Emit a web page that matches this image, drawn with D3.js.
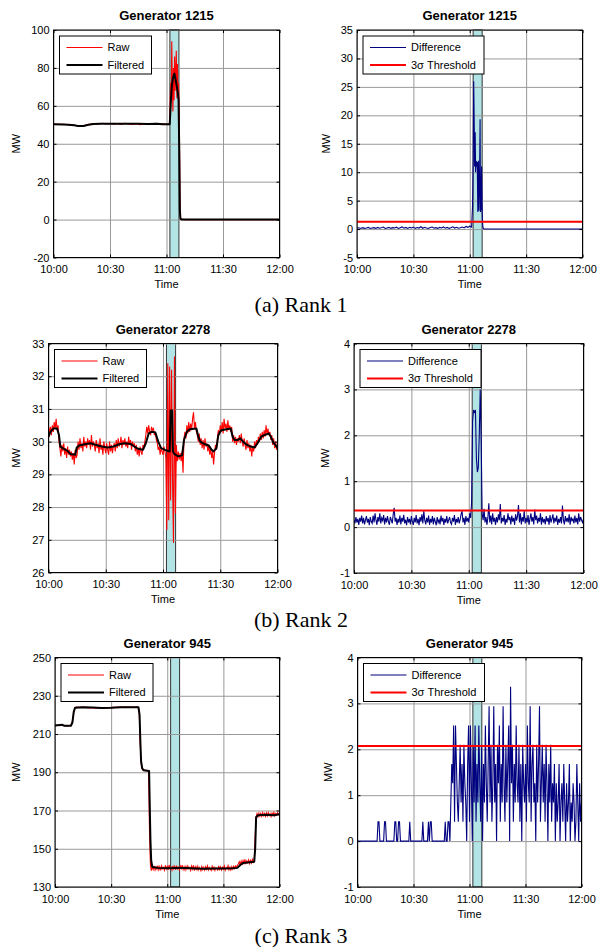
<!DOCTYPE html>
<html>
<head>
<meta charset="utf-8">
<script src="https://cdn.jsdelivr.net/npm/d3@7"></script>
<style>
  body { margin: 0; background: #fff; }
  svg { display: block; }
  text { font-family: "Liberation Sans", Arial, sans-serif; fill: #000; }
  .caption { font-family: "Liberation Serif", "Times New Roman", serif; font-size: 22px; }
</style>
</head>
<body>
<svg id="fig" width="601" height="947"></svg>
<script>
// time axis is minutes after 10:00
var timeTicks = [0, 30, 60, 90, 120];
var timeLabels = ["10:00", "10:30", "11:00", "11:30", "12:00"];
var eventWindow = [61.8, 66.6];
var sampleStep = 0.5;

// Generator 1215
var gen1215Raw = [[0,50.4],[2,50.3],[4,50.2],[6,50.3],[8,49.9],[10,49.8],[12,49.6],[14,49.3],[16,49.5],[18,50.1],[20,50.4],[22,50.6],[24,50.5],[26,50.8],[28,50.4],[30,50.7],[32,50.3],[34,50.7],[36,50.2],[38,50.8],[40,50.5],[42,50.2],[44,50.6],[46,50.1],[48,50.4],[50,50.7],[52,50.3],[54,50.8],[56,50.3],[58,50.5],[60,50.2],[61.6,50.3],
  [61.9,60],[62.2,72],[62.5,66],[62.8,94],[63.1,70],[63.4,57],[63.7,80],[64.0,63],[64.3,86],[64.6,68],[64.9,78],[65.2,89],[65.5,64],[65.8,82],[66.1,66],[66.4,72],[66.7,60],[67.0,30],[67.2,3],[67.5,0.3],[70,0],[120,0]];
var gen1215Filtered = [[0,50.3],[5,50.2],[8,50.0],[11,49.7],[13,49.4],[16,49.4],[18,49.9],[21,50.4],[25,50.6],[35,50.6],[45,50.5],[50,50.4],[55,50.6],[58,50.3],[61.7,50.3],
  [62.0,56],[62.4,64],[62.8,70],[63.3,74],[63.8,76],[64.2,77],[64.6,75],[65.0,73],[65.5,70],[66.0,67],[66.4,63],[66.8,35],[67.1,5],[67.4,0.5],[68,0],[120,0]];
var gen1215Diff = [[0,0.15],[1,0.22],[2,0.1],[3,0.25],[4,0.12],[5,0.2],[6,0.3],[7,0.1],[8,0.18],[9,0.25],[10,0.12],[11,0.28],[12,0.15],[13,0.22],[14,0.35],[15,0.1],[16,0.2],[17,0.3],[18,0.12],[19,0.25],[20,0.18],[21,0.32],[22,0.1],[23,0.24],[24,0.38],[25,0.15],[26,0.28],[27,0.12],[28,0.3],[29,0.2],[30,0.35],[31,0.12],[32,0.26],[33,0.18],[34,0.4],[35,0.14],[36,0.3],[37,0.2],[38,0.12],[39,0.28],[40,0.35],[41,0.15],[42,0.25],[43,0.12],[44,0.3],[45,0.2],[46,0.38],[47,0.15],[48,0.28],[49,0.12],[50,0.25],[51,0.4],[52,0.18],[53,0.3],[54,0.15],[55,0.22],[56,0.35],[57,0.2],[58,0.45],[59,0.3],[60,0.5],[61,0.35],
  [61.5,4.2],[61.8,12],[62.1,26],[62.4,18],[62.6,11],[62.9,17],[63.1,10],[63.4,12],[63.7,11],[64.0,11.8],[64.3,3],[64.6,12],[64.9,3.2],[65.2,8],[65.5,19.3],[65.7,3],[66.0,3.5],[66.3,11],[66.6,3],[66.9,0.6],[67.2,0.1],[67.6,0],[120,0]];
var gen1215Threshold = 1.3;

// Generator 2278 (raw and difference sampled every 0.5 min)
var gen2278Raw = [30.1,30.35,30.45,30.2,30.5,30.3,30.6,30.4,30.7,30.35,
  30.5,30.0,29.8,29.55,29.9,29.7,29.95,29.6,29.8,29.5,
  29.85,29.6,29.75,29.55,29.7,29.45,29.65,29.3,29.75,29.5,
  29.6,30.0,29.75,30.1,29.8,29.95,29.7,30.15,29.85,30.0,
  29.8,30.1,29.9,30.05,29.75,30.2,29.85,30.0,29.9,29.7,
  30.05,29.8,29.95,29.65,30.1,29.75,29.9,29.6,30.0,29.8,
  29.65,29.95,29.75,29.6,30.0,29.7,29.9,29.65,29.85,29.95,
  29.7,30.05,29.8,30.1,29.85,29.95,30.15,29.8,30.05,29.9,
  30.1,29.85,30.0,29.8,30.15,29.9,30.05,29.75,30.0,29.85,
  29.95,29.7,29.9,29.6,29.8,29.55,29.85,29.7,29.6,29.9,
  29.8,30.0,30.2,30.45,30.25,30.5,30.3,30.2,30.45,30.35,
  30.4,30.2,30.3,30.05,29.95,29.75,29.85,29.6,29.8,29.7,
  29.6,29.85,29.7,29.5,27.3,32.4,27.6,32.3,28.2,32.2,
  28.8,26.9,32.6,27.8,29.9,29.4,29.7,29.45,29.65,29.4,
  29.7,29.05,30.1,30.3,30.1,30.5,30.25,30.6,30.3,30.55,
  30.35,30.7,30.9,30.4,30.6,30.3,30.2,30.0,30.25,29.9,
  30.1,29.8,30.05,29.75,30.1,29.85,29.95,29.7,29.9,29.6,
  29.8,29.5,29.7,29.3,29.65,29.9,29.75,30.1,30.35,30.2,
  30.5,30.3,30.6,30.25,30.7,30.4,30.55,30.3,30.65,30.35,
  30.5,30.3,30.45,30.0,30.2,29.95,30.15,29.9,30.1,30.0,
  30.2,29.95,30.25,30.0,29.85,30.1,29.9,29.75,30.05,29.8,
  29.95,29.7,29.9,29.55,29.85,29.7,30.0,29.8,30.05,29.9,
  30.15,30.0,30.25,30.05,30.3,30.1,30.35,30.15,30.5,30.2,
  30.4,30.2,30.3,30.05,30.2,29.9,30.1,29.8,30.0,29.75,
  29.85];
var gen2278Filtered = [[0,30.15],[1,30.3],[2.5,30.4],[4.5,30.4],[5.5,30.2],[6.2,29.85],[8,29.78],[10,29.72],[11.5,29.62],[14,29.6],[14.8,29.82],[16,29.88],[19,29.92],[22,29.95],[25,29.9],[28,29.85],[31,29.82],[34,29.85],[37,29.92],[40,29.95],[43,29.93],[45,29.85],[47,29.78],[49.5,29.75],[51,29.95],[52.5,30.25],[54,30.3],[56,30.28],[57.5,30.0],[59,29.8],[61,29.75],[63.5,29.7],[64.0,30.95],[64.8,30.95],[65.2,29.7],[66,29.62],[68,29.55],[70,29.58],[71,30.05],[72.5,30.3],[74,30.38],[77.5,30.4],[78.5,30.15],[79.5,30.0],[82,29.92],[84,29.88],[85.5,29.75],[86.5,29.7],[88,29.8],[89,30.2],[90.5,30.35],[95.5,30.4],[96.5,30.15],[97.5,30.05],[99,30.05],[100.5,30.1],[102,30.0],[104,29.9],[106,29.85],[108,29.82],[109.5,29.95],[111.5,30.15],[113,30.2],[115.5,30.25],[116.5,30.15],[118,29.95],[119,29.9],[120,29.8]];
var gen2278Diff = [0.15,0.08,0.22,0.1,0.18,0.05,0.2,0.12,0.25,0.08,
  0.2,0.06,0.15,0.24,0.1,0.18,0.04,0.22,0.12,0.08,
  0.25,0.1,0.3,0.15,0.05,0.22,0.12,0.3,0.08,0.2,
  0.14,0.26,0.06,0.2,0.1,0.24,0.12,0.05,0.22,0.15,
  0.08,0.28,0.42,0.12,0.2,0.05,0.18,0.1,0.25,0.06,
  0.2,0.12,0.27,0.08,0.16,0.04,0.22,0.1,0.18,0.06,
  0.24,0.12,0.05,0.2,0.1,0.26,0.08,0.18,0.04,0.22,
  0.12,0.28,0.08,0.35,0.15,0.06,0.2,0.1,0.25,0.05,
  0.18,0.1,0.24,0.06,0.2,0.12,0.04,0.22,0.1,0.16,
  0.06,0.25,0.12,0.2,0.05,0.18,0.1,0.24,0.08,0.15,
  0.22,0.1,0.06,0.2,0.12,0.26,0.05,0.18,0.1,0.22,
  0.08,0.16,0.28,0.35,0.1,0.2,0.05,0.24,0.12,0.2,
  0.1,0.3,0.2,0.55,2.3,2.55,2.5,2.55,1.5,1.2,
  1.3,2.0,3.0,1.9,0.3,0.15,0.4,0.1,0.22,0.05,
  0.2,0.52,0.1,0.25,0.06,0.3,0.12,0.2,0.05,0.22,
  0.1,0.28,0.15,0.5,0.08,0.2,0.12,0.26,0.05,0.18,
  0.1,0.3,0.15,0.22,0.06,0.25,0.12,0.2,0.05,0.28,
  0.14,0.24,0.48,0.1,0.3,0.06,0.22,0.12,0.35,0.08,
  0.2,0.1,0.26,0.05,0.18,0.3,0.12,0.22,0.06,0.38,
  0.15,0.25,0.08,0.2,0.12,0.3,0.05,0.22,0.1,0.18,
  0.06,0.24,0.12,0.2,0.05,0.26,0.1,0.18,0.28,0.08,
  0.2,0.12,0.25,0.05,0.18,0.1,0.22,0.08,0.47,0.15,
  0.06,0.24,0.12,0.2,0.1,0.28,0.05,0.22,0.14,0.18,
  0.08,0.25,0.1,0.2,0.06,0.3,0.12,0.22,0.15,0.1,
  0.18];
var gen2278Threshold = 0.36;

// Generator 945 (raw and difference sampled every 0.5 min)
var gen945Raw = [214.6,214.4,214.7,214.5,214.6,214.4,214.5,214.7,214.8,214.6,
  214.2,214.4,214.3,214.1,214.4,214.3,214.2,214.5,215.5,217.5,
  221.5,223.0,223.8,224.2,223.9,224.1,223.8,224.2,223.9,224.0,
  224.2,223.8,224.1,223.9,223.7,224.0,223.6,223.9,223.7,223.5,
  223.8,223.5,223.9,223.6,223.4,223.7,223.5,223.8,223.4,223.6,
  223.5,223.8,223.6,223.4,223.7,223.5,223.8,223.6,223.9,223.7,
  223.6,223.9,223.7,224.0,223.8,224.1,223.9,224.2,223.8,224.1,
  224.0,224.2,223.9,224.1,224.0,224.3,223.9,224.1,224.0,224.2,
  223.9,224.1,224.0,224.2,223.9,224.1,224.0,224.2,224.1,223.9,
  222.0,206.0,195.0,192.0,191.0,190.8,191.2,190.7,191.0,190.6,
  190.8,160.0,141.5,138.5,140.8,139.2,141.0,138.9,140.5,139.3,
  141.2,139.0,140.6,138.7,141.0,139.5,140.2,138.8,141.3,139.4,
  140.7,139.1,141.5,139.6,140.3,138.9,141.1,139.4,140.8,139.0,
  141.2,139.5,140.4,138.8,140.9,139.7,141.4,139.2,140.6,138.9,
  140.8,139.3,141.0,139.6,140.2,138.7,140.9,139.4,141.3,138.6,
  140.5,139.2,140.8,138.9,140.4,139.6,138.5,140.7,139.1,140.3,
  138.8,140.6,139.3,141.0,138.9,140.2,139.5,138.6,140.8,139.2,
  140.4,138.7,140.1,139.6,138.8,141.0,139.2,140.5,138.9,140.3,
  139.4,140.9,138.8,140.2,139.6,141.1,139.0,140.4,138.9,140.6,
  139.3,140.8,139.7,141.0,140.2,141.4,142.0,143.2,141.8,143.5,
  142.1,143.8,142.4,144.5,142.0,143.6,142.7,144.2,142.3,143.9,
  142.6,144.4,143.0,143.8,156.0,166.5,168.3,166.8,168.6,167.1,
  168.5,167.0,168.8,167.3,168.4,166.9,168.7,167.2,168.9,167.4,
  168.3,166.8,168.6,167.5,169.0,167.2,168.4,167.6,168.9,167.8,
  168.5];
var gen945Filtered = [[0,214.5],[4,214.8],[5,214.3],[8.5,214.3],[9.3,216],[10,221.5],[10.7,223.7],[15,224],[20,223.8],[25,223.6],[30,223.7],[35,224],[44.6,224],[45.2,220],[45.6,207],[46.0,196],[46.6,192],[47.5,191],[50.3,190.7],[50.6,175],[51.0,155],[51.4,144],[52,140.5],[55,140],[60,139.8],[65,140],[70,139.9],[75,139.7],[80,139.6],[85,139.7],[90,139.7],[95,139.8],[97.5,140],[99,141.5],[100.5,142.5],[103,142.8],[106.5,143.2],[107,150],[107.5,166.5],[108.5,167.5],[113,167.8],[117,167.5],[120,168]];
var gen945Diff = [0,0,0,0,0,0,0,0,0,0,
  0,0,0,0,0,0,0,0,0,0,
  0,0,0.42,0.42,0,0,0,0,0,0.42,
  0.42,0,0,0,0,0,0,0,0,0,
  0.42,0.42,0,0,0.42,0.42,0,0,0,0,
  0,0,0,0,0,0,0.42,0,0,0,
  0,0,0,0,0,0,0,0,0,0,
  0.42,0,0,0,0,0,0.42,0,0.42,0.42,
  0,0,0,0,0,0,0,0,0,0,
  0,0,0,0,0.42,0,0,0.42,0.42,0,
  0.84,1.68,1.26,2.52,0.42,2.52,1.68,0.84,0.42,1.26,
  2.1,0.84,1.68,0.42,2.1,1.26,0.84,0,1.68,2.52,
  0.42,2.52,1.26,0,2.1,0.84,2.52,0.42,1.68,0.84,
  2.52,1.26,0.42,2.1,0,1.68,0.84,2.52,1.26,0.42,
  1.68,2.94,0.84,2.1,0.42,1.26,2.94,0.84,1.68,0,
  2.1,1.26,2.52,0.42,1.68,0.84,2.94,1.26,0.42,2.1,
  0.84,1.68,2.52,0,3.36,1.26,2.1,0.42,1.68,0.84,
  2.52,1.26,0.84,2.1,0.42,1.68,0,2.1,1.26,0.84,
  1.68,0.42,2.52,1.26,0.84,2.94,0.42,1.68,2.1,0.84,
  1.26,0,2.1,0.84,1.68,2.94,0.42,1.26,2.1,0.84,
  1.68,0.42,2.1,1.26,0,1.68,0.84,2.1,0.42,1.26,
  0.84,1.68,0,1.26,0.42,0.84,1.68,0,0.84,1.26,
  0.42,1.68,0.84,0,1.26,0.42,0.84,1.68,0,0.84,
  0.42,1.26,0.84,0,0.42,1.68,0.84,0,1.26,0.42,
  0.84];
var gen945Threshold = 2.07;

// values sampled on a regular grid -> [minute, value]
function sampled(values) {
  return values.map(function(v, i) { return [i * sampleStep, v]; });
}

var svg = d3.select("#fig");

// panel layout: [left, top, right, bottom] of each plot box
var panels = [
  { id: "p1", box: [53.5, 30, 279.5, 257.5], yDomain: [-20, 100], yTicks: [-20, 0, 20, 40, 60, 80, 100],
    title: "Generator 1215", kind: "raw", a: gen1215Raw, b: gen1215Filtered, mwX: 16 },
  { id: "p2", box: [357, 30, 582.5, 257.5], yDomain: [-5, 35], yTicks: [-5, 0, 5, 10, 15, 20, 25, 30, 35],
    title: "Generator 1215", kind: "diff", a: gen1215Diff, thr: gen1215Threshold, mwX: 326 },
  { id: "p3", box: [48.5, 343.5, 277.5, 572.5], yDomain: [26, 33], yTicks: [26, 27, 28, 29, 30, 31, 32, 33],
    title: "Generator 2278", kind: "raw", a: sampled(gen2278Raw), b: gen2278Filtered, mwX: 16 },
  { id: "p4", box: [354, 343.5, 583.5, 573], yDomain: [-1, 4], yTicks: [-1, 0, 1, 2, 3, 4],
    title: "Generator 2278", kind: "diff", a: sampled(gen2278Diff), thr: gen2278Threshold, mwX: 325 },
  { id: "p5", box: [55, 657.5, 279.5, 887], yDomain: [130, 250], yTicks: [130, 150, 170, 190, 210, 230, 250],
    title: "Generator 945", kind: "raw", a: sampled(gen945Raw), b: gen945Filtered, mwX: 16.5 },
  { id: "p6", box: [357.5, 657.5, 581.5, 887], yDomain: [-1, 4], yTicks: [-1, 0, 1, 2, 3, 4],
    title: "Generator 945", kind: "diff", a: sampled(gen945Diff), thr: gen945Threshold, mwX: 328 }
];

var captions = [["(a) Rank 1", 312], ["(b) Rank 2", 627], ["(c) Rank 3", 943]];

function styleAxis(sel) {
  sel.select(".domain").remove();
  sel.attr("font-family", null).attr("font-size", null);
  sel.selectAll("line").attr("stroke", "#000");
  sel.selectAll("text").style("font-size", "11px");
}

// plain integers with an ASCII hyphen for negatives, like the original
function plainNumber(d) { return String(d); }

function drawPanel(p) {
  var x0 = p.box[0], y0 = p.box[1], x1 = p.box[2], y1 = p.box[3];
  var x = d3.scaleLinear().domain([0, 120]).range([x0, x1]);
  var y = d3.scaleLinear().domain(p.yDomain).range([y1, y0]);
  var g = svg.append("g");

  var clipId = "clip-" + p.id;
  svg.append("clipPath").attr("id", clipId)
    .append("rect").attr("x", x0).attr("y", y0).attr("width", x1 - x0).attr("height", y1 - y0);

  // event window
  g.append("rect")
    .attr("x", x(eventWindow[0])).attr("y", y0)
    .attr("width", x(eventWindow[1]) - x(eventWindow[0])).attr("height", y1 - y0)
    .attr("fill", "#b2e4e6").attr("stroke", "#333").attr("stroke-width", 1);

  // grid
  g.append("g").attr("transform", "translate(0," + y1 + ")")
    .call(d3.axisBottom(x).tickValues(timeTicks).tickSize(-(y1 - y0)).tickFormat(""))
    .call(function(s) { s.select(".domain").remove(); s.selectAll("line").attr("stroke", "#999"); });
  g.append("g").attr("transform", "translate(" + x0 + ",0)")
    .call(d3.axisLeft(y).tickValues(p.yTicks).tickSize(-(x1 - x0)).tickFormat(""))
    .call(function(s) { s.select(".domain").remove(); s.selectAll("line").attr("stroke", "#999"); });

  var line = d3.line().x(function(d) { return x(d[0]); }).y(function(d) { return y(d[1]); });
  var plot = g.append("g").attr("clip-path", "url(#" + clipId + ")");

  if (p.kind === "raw") {
    plot.append("path").datum(p.a).attr("d", line)
      .attr("fill", "none").attr("stroke", "#ff0000").attr("stroke-width", 1.1);
    plot.append("path").datum(p.b).attr("d", line)
      .attr("fill", "none").attr("stroke", "#000").attr("stroke-width", 2).attr("stroke-linejoin", "round");
  } else {
    plot.append("path").datum(p.a).attr("d", line)
      .attr("fill", "none").attr("stroke", "#000080").attr("stroke-width", 1.1);
    plot.append("line")
      .attr("x1", x(0)).attr("x2", x(120)).attr("y1", y(p.thr)).attr("y2", y(p.thr))
      .attr("stroke", "#ff0000").attr("stroke-width", 2);
  }

  // axes with inward ticks
  g.append("g").attr("transform", "translate(0," + y1 + ")")
    .call(d3.axisBottom(x).tickValues(timeTicks).tickFormat(function(d, i) { return timeLabels[i]; })
      .tickSizeInner(-3).tickSizeOuter(0).tickPadding(8))
    .call(styleAxis);
  g.append("g").attr("transform", "translate(0," + y0 + ")")
    .call(d3.axisTop(x).tickValues(timeTicks).tickFormat("").tickSizeInner(-3).tickSizeOuter(0))
    .call(styleAxis);
  g.append("g").attr("transform", "translate(" + x0 + ",0)")
    .call(d3.axisLeft(y).tickValues(p.yTicks).tickFormat(plainNumber)
      .tickSizeInner(-3).tickSizeOuter(0).tickPadding(4))
    .call(styleAxis);
  g.append("g").attr("transform", "translate(" + x1 + ",0)")
    .call(d3.axisRight(y).tickValues(p.yTicks).tickFormat("").tickSizeInner(-3).tickSizeOuter(0))
    .call(styleAxis);

  g.append("rect").attr("x", x0).attr("y", y0).attr("width", x1 - x0).attr("height", y1 - y0)
    .attr("fill", "none").attr("stroke", "#000").attr("stroke-width", 1);

  // titles and labels
  g.append("text").attr("x", (x0 + x1) / 2).attr("y", y0 - 10)
    .attr("text-anchor", "middle").style("font-size", "13px").style("font-weight", "bold").text(p.title);
  g.append("text").attr("x", (x0 + x1) / 2).attr("y", y1 + 30.5)
    .attr("text-anchor", "middle").style("font-size", "11px").text("Time");
  g.append("text").attr("transform", "translate(" + p.mwX + "," + (y0 + y1) / 2 + ") rotate(-90)")
    .attr("text-anchor", "middle").attr("dy", "0.35em").style("font-size", "11px").text("MW");

  // legend
  var lw = p.kind === "raw" ? 92 : 121;
  var lg = g.append("g").attr("transform", "translate(" + (x0 + 6) + "," + (y0 + 6) + ")");
  lg.append("rect").attr("width", lw).attr("height", 38)
    .attr("fill", "#fff").attr("stroke", "#000").attr("stroke-width", 1);
  var entries = p.kind === "raw"
    ? [["Raw", "#ff0000", 1], ["Filtered", "#000", 2]]
    : [["Difference", "#000080", 1], ["3σ Threshold", "#ff0000", 2]];
  entries.forEach(function(e, i) {
    var cy = i === 0 ? 11.5 : 29;
    lg.append("line").attr("x1", 7).attr("x2", 43).attr("y1", cy).attr("y2", cy)
      .attr("stroke", e[1]).attr("stroke-width", e[2]);
    lg.append("text").attr("x", 48).attr("y", cy).attr("dy", "0.35em")
      .style("font-size", "11px").text(e[0]);
  });
}

panels.forEach(drawPanel);

svg.selectAll("text.caption").data(captions).enter().append("text")
  .attr("class", "caption")
  .attr("x", 301).attr("y", function(d) { return d[1]; })
  .attr("text-anchor", "middle")
  .text(function(d) { return d[0]; });
</script>
</body>
</html>
